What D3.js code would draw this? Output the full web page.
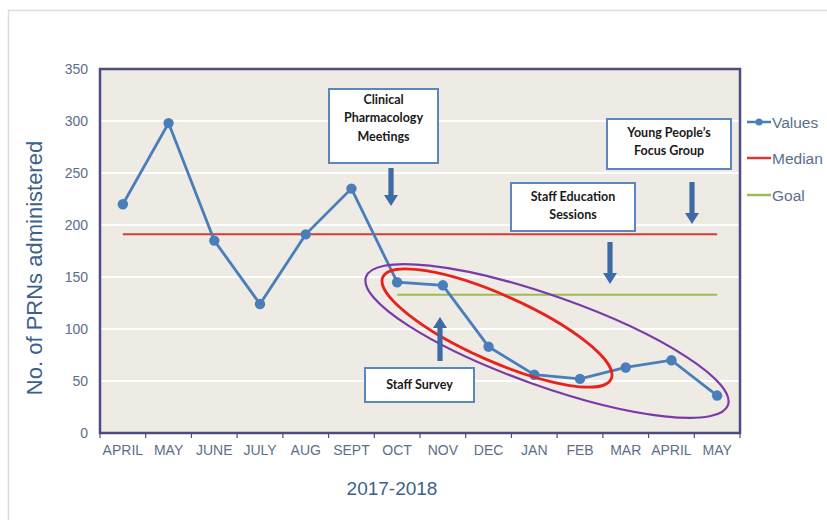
<!DOCTYPE html>
<html>
<head>
<meta charset="utf-8">
<script src="https://cdn.jsdelivr.net/npm/d3@7"></script>
<style>
  body { margin: 0; background: #fff; }
  svg { display: block; }
</style>
</head>
<body>
<svg id="chart" width="827" height="520"></svg>
<script>
// Monthly PRN administrations, April 2017 – May 2018
const months = ["APRIL","MAY","JUNE","JULY","AUG","SEPT","OCT","NOV","DEC","JAN","FEB","MAR","APRIL","MAY"];
const values = [220, 298, 185, 124, 191, 235, 145, 142, 83, 56, 52, 63, 70, 36];
const medianValue = 191;
const goalValue = 133;
const goalStartIndex = 6;          // goal line starts at OCT
const yTicks = [0, 50, 100, 150, 200, 250, 300, 350];
const seriesNames = ["Values", "Median", "Goal"];
const xTitle = "2017-2018";
const yTitle = "No. of PRNs administered";

const colors = {
  values: "#4a7ebb",
  median: "#d83a33",
  goal: "#9bbb59",
  plotBg: "#eeebe5",
  plotBorder: "#4f4a80",
  tickText: "#5b6e8c",
  title: "#3d5f8e",
  arrow: "#3e6aa5",
  boxStroke: "#5b87c0"
};

const svg = d3.select("#chart");
const W = 827, H = 520;
const plot = { left: 100, top: 69, right: 740, bottom: 433 };

// outer frame of the chart area
svg.append("rect")
  .attr("x", 8.5).attr("y", 10.5)
  .attr("width", W).attr("height", H)
  .attr("fill", "#fff")
  .attr("stroke", "#d8dce6").attr("stroke-width", 1.5);

const x = d3.scaleBand()
  .domain(d3.range(months.length))
  .range([plot.left, plot.right])
  .paddingInner(0).paddingOuter(0);
const cx = i => x(i) + x.bandwidth() / 2;

const y = d3.scaleLinear()
  .domain([0, 350])
  .range([plot.bottom, plot.top]);

// plot background
svg.append("rect")
  .attr("x", plot.left).attr("y", plot.top)
  .attr("width", plot.right - plot.left).attr("height", plot.bottom - plot.top)
  .attr("fill", colors.plotBg);

// horizontal gridlines
svg.append("g")
  .selectAll("line")
  .data(yTicks.filter(v => v > 0 && v < 350))
  .join("line")
  .attr("x1", plot.left).attr("x2", plot.right)
  .attr("y1", d => y(d)).attr("y2", d => y(d))
  .attr("stroke", "#ffffff").attr("stroke-width", 2);

// y axis
const yAxis = svg.append("g")
  .attr("transform", `translate(${plot.left},0)`)
  .call(d3.axisLeft(y).tickValues(yTicks).tickSize(0).tickPadding(12));
yAxis.select(".domain").remove();
yAxis.selectAll("text")
  .attr("fill", colors.tickText)
  .attr("font-family", "'Liberation Sans', Arial, sans-serif")
  .attr("font-size", 14);

// x axis
const xAxis = svg.append("g")
  .attr("transform", `translate(0,${plot.bottom})`)
  .call(d3.axisBottom(x).tickFormat(i => months[i]).tickSize(0).tickPadding(12));
xAxis.select(".domain").remove();
xAxis.selectAll("text")
  .attr("fill", colors.tickText)
  .attr("font-family", "'Liberation Sans', Arial, sans-serif")
  .attr("font-size", 14);

// tick marks at category boundaries
svg.append("g")
  .selectAll("line")
  .data(d3.range(months.length + 1))
  .join("line")
  .attr("x1", i => plot.left + i * x.bandwidth())
  .attr("x2", i => plot.left + i * x.bandwidth())
  .attr("y1", plot.bottom).attr("y2", plot.bottom + 5)
  .attr("stroke", colors.plotBorder).attr("stroke-width", 1.2);

// plot border
svg.append("rect")
  .attr("x", plot.left).attr("y", plot.top)
  .attr("width", plot.right - plot.left).attr("height", plot.bottom - plot.top)
  .attr("fill", "none")
  .attr("stroke", colors.plotBorder).attr("stroke-width", 2.5);

// axis titles
svg.append("text")
  .attr("x", (plot.left + plot.right) / 2 - 28).attr("y", 495)
  .attr("text-anchor", "middle")
  .attr("fill", colors.title)
  .attr("font-family", "'Liberation Sans', Arial, sans-serif")
  .attr("font-size", 19)
  .text(xTitle);

svg.append("text")
  .attr("transform", `translate(42,${(plot.top + plot.bottom) / 2 + 17}) rotate(-90)`)
  .attr("text-anchor", "middle")
  .attr("fill", colors.title)
  .attr("font-family", "'Liberation Sans', Arial, sans-serif")
  .attr("font-size", 22)
  .text(yTitle);

// median and goal reference lines
svg.append("line")
  .attr("x1", cx(0)).attr("x2", cx(months.length - 1))
  .attr("y1", y(medianValue)).attr("y2", y(medianValue))
  .attr("stroke", colors.median).attr("stroke-width", 2);

svg.append("line")
  .attr("x1", cx(goalStartIndex)).attr("x2", cx(months.length - 1))
  .attr("y1", y(goalValue)).attr("y2", y(goalValue))
  .attr("stroke", colors.goal).attr("stroke-width", 2);

// values series
const line = d3.line().x((d, i) => cx(i)).y(d => y(d));
svg.append("path")
  .datum(values)
  .attr("d", line)
  .attr("fill", "none")
  .attr("stroke", colors.values).attr("stroke-width", 2.8);

svg.append("g")
  .selectAll("circle")
  .data(values)
  .join("circle")
  .attr("cx", (d, i) => cx(i)).attr("cy", d => y(d))
  .attr("r", 5.2)
  .attr("fill", colors.values);

// legend
const legend = svg.append("g");
const legendRows = [
  { name: seriesNames[0], color: colors.values, marker: true, y: 122 },
  { name: seriesNames[1], color: colors.median, marker: false, y: 158 },
  { name: seriesNames[2], color: colors.goal, marker: false, y: 195 }
];
legendRows.forEach(r => {
  legend.append("line")
    .attr("x1", 747).attr("x2", 771)
    .attr("y1", r.y).attr("y2", r.y)
    .attr("stroke", r.color).attr("stroke-width", 2.5);
  if (r.marker) {
    legend.append("circle").attr("cx", 759).attr("cy", r.y).attr("r", 3.5).attr("fill", r.color);
  }
  legend.append("text")
    .attr("x", 772).attr("y", r.y + 5.5)
    .attr("fill", colors.tickText)
    .attr("font-family", "'Liberation Sans', Arial, sans-serif")
    .attr("font-size", 15.5)
    .text(r.name);
});

// highlight ellipses around the improvement period
const ellipses = [
  { cx: 497, cy: 328, rx: 125, ry: 33, angle: 24, color: "#e8231d", width: 2.8 },
  { cx: 547, cy: 341, rx: 192, ry: 45, angle: 19.5, color: "#7a3aa8", width: 2.2 }
];
svg.append("g")
  .selectAll("ellipse")
  .data(ellipses)
  .join("ellipse")
  .attr("cx", d => d.cx).attr("cy", d => d.cy)
  .attr("rx", d => d.rx).attr("ry", d => d.ry)
  .attr("transform", d => `rotate(${d.angle},${d.cx},${d.cy})`)
  .attr("fill", "none")
  .attr("stroke", d => d.color).attr("stroke-width", d => d.width);

// intervention call-outs
const callouts = [
  { lines: ["Clinical", "Pharmacology", "Meetings"], box: [329, 89, 109, 74], lineY: [104, 122, 141] },
  { lines: ["Young People\u2019s", "Focus Group"], box: [607, 119, 124, 50], lineY: [137, 155] },
  { lines: ["Staff Education", "Sessions"], box: [511, 183, 124, 48], lineY: [201, 219] },
  { lines: ["Staff Survey"], box: [365, 368, 109, 34], lineY: [389] }
];
const arrows = [
  { x: 391, from: 168, to: 206 },
  { x: 692, from: 182, to: 224 },
  { x: 610, from: 242, to: 284 },
  { x: 440, from: 361, to: 317 }
];

const arrowG = svg.append("g");
arrows.forEach(a => {
  const dir = a.to > a.from ? 1 : -1;
  const headLen = 11, headHalf = 7, shaftHalf = 2.6;
  const base = a.to - dir * headLen;
  arrowG.append("path")
    .attr("d", `M${a.x - shaftHalf},${a.from} L${a.x + shaftHalf},${a.from} L${a.x + shaftHalf},${base}
                L${a.x + headHalf},${base} L${a.x},${a.to} L${a.x - headHalf},${base}
                L${a.x - shaftHalf},${base} Z`)
    .attr("fill", colors.arrow);
});

const boxG = svg.append("g");
callouts.forEach(c => {
  const [bx, by, bw, bh] = c.box;
  boxG.append("rect")
    .attr("x", bx).attr("y", by).attr("width", bw).attr("height", bh)
    .attr("fill", "#ffffff")
    .attr("stroke", colors.boxStroke).attr("stroke-width", 2);
  c.lines.forEach((t, k) => {
    boxG.append("text")
      .attr("x", bx + bw / 2).attr("y", c.lineY[k])
      .attr("text-anchor", "middle")
      .attr("fill", "#1a1a1a")
      .attr("font-family", "Lato, 'Open Sans', sans-serif")
      .attr("font-weight", "bold")
      .attr("font-size", 12.5)
      .text(t);
  });
});
</script>
</body>
</html>
